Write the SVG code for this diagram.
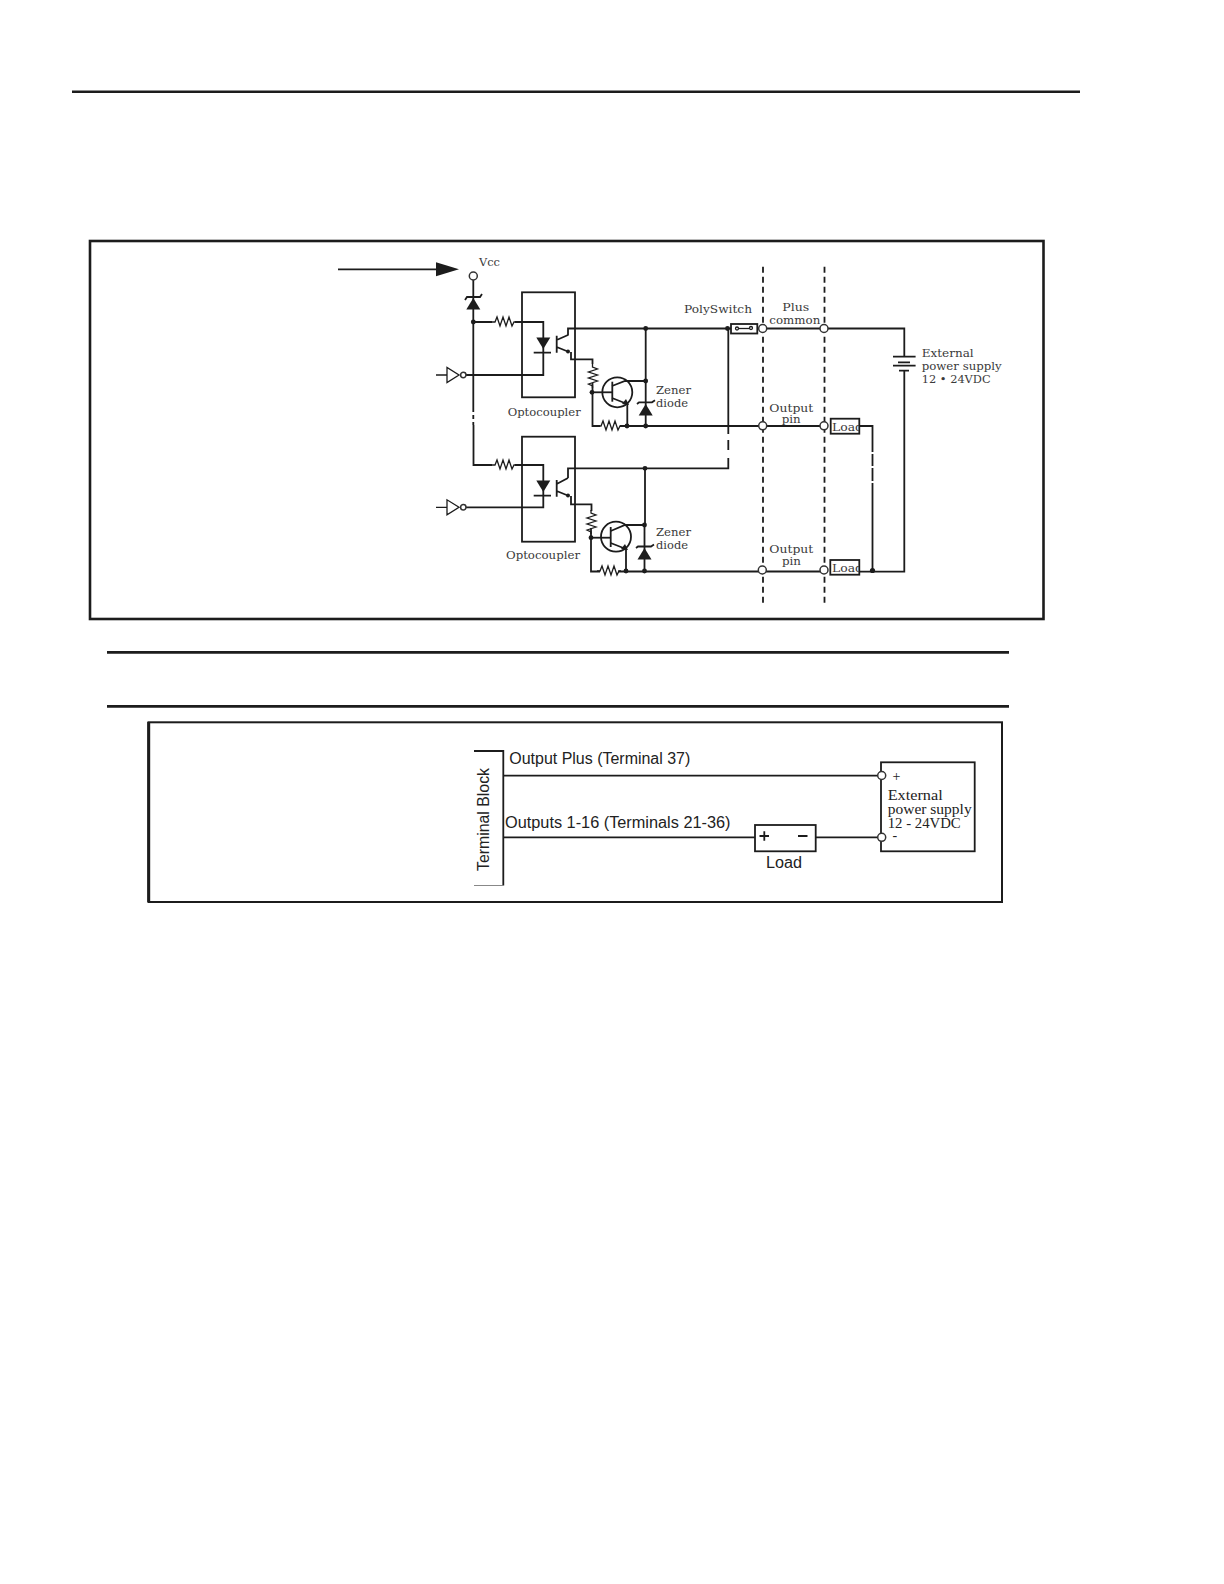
<svg xmlns="http://www.w3.org/2000/svg" width="1224" height="1584" viewBox="0 0 1224 1584">
<style>
.w{fill:none;stroke:#1c1c1c;stroke-width:1.800}
.t{fill:none;stroke:#1c1c1c;stroke-width:1.300}
.d{fill:#1c1c1c}
.o{fill:#fff;stroke:#333;stroke-width:1.500}
.da{fill:none;stroke:#1c1c1c;stroke-width:1.800;stroke-dasharray:6 4}
.s{font-family:"DejaVu Serif","Liberation Serif",serif;font-size:11.500px;fill:#3a3a3a}
.a{font-family:"Liberation Sans",Arial,sans-serif;font-size:16px;fill:#222}
.b{font-family:"Liberation Serif","DejaVu Serif",serif;font-size:14px;fill:#222}
</style>
<defs>
<path id="res" class="t" d="M0 0h3l2-5 3 9 3-9 3 9 3-9 3 9 2-4h2"/>
<g id="tri"><path class="d" d="M0 0l7 11.500h-14z"/></g>
<g id="inv"><path class="t" d="M0 0h11M11-7.500v15l12-7.500z"/><circle class="o" cx="27.300" cy="0" r="2.700"/></g>
<clipPath id="lc1"><rect x="830" y="418" width="29" height="16"/></clipPath>
<clipPath id="lc2"><rect x="830" y="560" width="29" height="16"/></clipPath>
</defs>
<rect width="1224" height="1584" fill="#fff"/>
<g id="page-rules">
<path d="M72 91.700H1080" stroke="#1c1c1c" stroke-width="2.400"/>
<path d="M107 652.300H1009M107 706.300H1009" stroke="#1c1c1c" stroke-width="2.800"/>
</g>
<g id="frame-top"><rect x="90" y="241" width="953.500" height="378" fill="none" stroke="#1c1c1c" stroke-width="2.600"/></g>
<g id="frame-bottom"><rect x="148.500" y="722.300" width="853.500" height="179.700" fill="none" stroke="#1c1c1c" stroke-width="2"/><path d="M148.700 722V902" stroke="#1c1c1c" stroke-width="3"/></g>

<g id="connectors">
<path d="M338 269.300H437" stroke="#1c1c1c" stroke-width="1.800"/>
<path class="d" d="M436 262.300L459 269.300L436 276.300z"/>
<path class="w" d="M473.300 280V408"/>
<path class="w" d="M473.300 408V425" stroke-dasharray="4 3"/>
<path class="w" d="M473.500 425V465H492M515 465H543.300V507.300H466"/>
<path class="w" d="M473.300 322H492M515 322H543.300V375H466"/>
<path class="w" d="M568 335.500V328.500H731"/>
<path class="w" d="M571 352V359.300H592.500V364M592.500 383V426H600M620 426H824"/>
<path class="w" d="M592 392.300H612"/>
<path class="w" d="M612 386L625 381H645.700M645.700 328.500V426M612 398L627.300 404V426"/>
<path class="w" d="M568 478V468.300H728.300V458M728.300 450V440M728.300 434V328.500"/>
<path class="w" d="M571 496V504.300H591.500V511M591 528V571.500H600M618 571.500H824"/>
<path class="w" d="M591 537.700H610.700"/>
<path class="w" d="M610.700 531L625 525H644.500M645 468.300V525M644.500 525V571.500M610.700 543L626 549V571.500"/>
<path class="w" d="M757.300 328.500H904.300V356.700M904.300 370.700V571.700H859.300"/>
<path class="w" d="M859.300 426H872.500V571"/>
<path d="M872.500 452v2M872.500 466v2M872.500 481v2" stroke="#fff" stroke-width="3" fill="none"/>
<path class="da" d="M763 266.700V603"/>
<path class="da" d="M824.500 266.700V603"/>
<path class="w" d="M503.300 775.700H878M503.300 837.300H755M815.700 837.300H878"/>
</g>

<g id="vcc-terminal">
<circle class="o" cx="473.300" cy="276" r="4"/>
<text class="s" x="479" y="266" textLength="21" lengthAdjust="spacingAndGlyphs">Vcc</text>
</g>
<g id="vcc-zener">
<use href="#tri" x="473.300" y="298"/>
<path class="w" d="M465 300l2-3h13l2-3"/>
</g>
<g id="junction-dots">
<circle class="d" cx="473.300" cy="322" r="2.400"/>
<circle class="d" cx="645.700" cy="328.500" r="2.400"/>
<circle class="d" cx="645.700" cy="381" r="2.400"/>
<circle class="d" cx="592" cy="392.300" r="2.400"/>
<circle class="d" cx="627" cy="426" r="2.400"/>
<circle class="d" cx="645.700" cy="426" r="2.400"/>
<circle class="d" cx="645" cy="468.300" r="2.400"/>
<circle class="d" cx="644.500" cy="525" r="2.400"/>
<circle class="d" cx="591" cy="537.700" r="2.400"/>
<circle class="d" cx="626" cy="571" r="2.400"/>
<circle class="d" cx="644.500" cy="571" r="2.400"/>
<circle class="d" cx="727.500" cy="328.500" r="2.400"/>
<circle class="d" cx="872.500" cy="570.500" r="2.600"/>
</g>
<g id="resistors">
<use href="#res" x="492" y="322"/>
<use href="#res" x="492" y="465"/>
<use href="#res" transform="translate(592.500 364) rotate(90)"/>
<use href="#res" transform="translate(591 510) rotate(90)"/>
<use href="#res" x="598" y="426"/>
<use href="#res" x="597" y="571"/>
</g>
<g id="inverter-1"><use href="#inv" x="436" y="375"/></g>
<g id="inverter-2"><use href="#inv" x="436" y="507.300"/></g>

<g id="optocoupler-1">
<rect x="522" y="292.300" width="53" height="105" class="w"/>
<use href="#tri" transform="translate(543.300 349) scale(1 -1)"/>
<path class="w" d="M533.700 352.700H551M556.700 335.700V352.700M556.700 340L568 335M556.700 347L569 352"/>
<circle class="d" cx="568" cy="351.500" r="2"/>
<text class="s" x="507.700" y="415.700" textLength="73" lengthAdjust="spacingAndGlyphs">Optocoupler</text>
</g>
<g id="optocoupler-2">
<rect x="522" y="436.700" width="53" height="105" class="w"/>
<use href="#tri" transform="translate(543.300 492) scale(1 -1)"/>
<path class="w" d="M533.700 495.700H551M556.700 480V496.700M556.700 484L568 478M556.700 491L569 496"/>
<circle class="d" cx="568" cy="495.500" r="2"/>
<text class="s" x="506" y="559" textLength="74" lengthAdjust="spacingAndGlyphs">Optocoupler</text>
</g>
<g id="transistor-1">
<circle cx="617.300" cy="392.300" r="15" class="w"/>
<path class="w" d="M612.300 381.700V401.700"/>
<path class="d" d="M629 405l-7-1 4-5z"/>
</g>
<g id="transistor-2">
<circle cx="616" cy="536.700" r="15" class="w"/>
<path class="w" d="M610.700 527V547"/>
<path class="d" d="M628 550l-7-1 4-5z"/>
</g>
<g id="zener-1">
<use href="#tri" x="645.700" y="404"/>
<path class="w" d="M637 404l2-1.700h13l3-2"/>
<text class="s" x="656" y="393.500" textLength="35" lengthAdjust="spacingAndGlyphs">Zener</text>
<text class="s" x="656" y="406.500" textLength="32" lengthAdjust="spacingAndGlyphs">diode</text>
</g>
<g id="zener-2">
<use href="#tri" x="644.500" y="548"/>
<path class="w" d="M636 548l2-1.500h13l3-2"/>
<text class="s" x="656" y="536" textLength="35" lengthAdjust="spacingAndGlyphs">Zener</text>
<text class="s" x="656" y="549" textLength="32" lengthAdjust="spacingAndGlyphs">diode</text>
</g>
<g id="polyswitch">
<rect x="731" y="324" width="26.300" height="9.500" fill="#fff" stroke="#1c1c1c" stroke-width="1.800"/>
<circle class="t" cx="737" cy="328.500" r="1.500"/><circle class="t" cx="751" cy="328" r="1.500"/>
<path class="t" d="M738.500 328.500H749.500"/>
<text class="s" x="684" y="313" textLength="68" lengthAdjust="spacingAndGlyphs">PolySwitch</text>
</g>
<g id="plus-common">
<circle class="o" cx="762.700" cy="328.500" r="4"/><circle class="o" cx="824" cy="328.500" r="4"/>
<text class="s" x="782.300" y="310.700" textLength="27" lengthAdjust="spacingAndGlyphs">Plus</text>
<text class="s" x="769.300" y="324" textLength="51" lengthAdjust="spacingAndGlyphs">common</text>
</g>
<g id="output-pin-1">
<circle class="o" cx="762.700" cy="425.800" r="4"/><circle class="o" cx="824" cy="425.800" r="4"/>
<text class="s" x="769.300" y="411.700" textLength="44" lengthAdjust="spacingAndGlyphs">Output</text>
<text class="s" x="781.700" y="423" textLength="19" lengthAdjust="spacingAndGlyphs">pin</text>
</g>
<g id="output-pin-2">
<circle class="o" cx="762.300" cy="570" r="4"/><circle class="o" cx="824" cy="570" r="4"/>
<text class="s" x="769.300" y="552.700" textLength="44" lengthAdjust="spacingAndGlyphs">Output</text>
<text class="s" x="782" y="565" textLength="19" lengthAdjust="spacingAndGlyphs">pin</text>
</g>
<g id="load-1">
<rect x="830.700" y="418.700" width="28.600" height="15" fill="#fff" stroke="#1c1c1c" stroke-width="1.800"/>
<text class="s" x="832" y="430.500" clip-path="url(#lc1)" textLength="31" lengthAdjust="spacingAndGlyphs">Load</text>
</g>
<g id="load-2">
<rect x="830.300" y="560" width="29" height="14.700" fill="#fff" stroke="#1c1c1c" stroke-width="1.800"/>
<text class="s" x="832" y="572" clip-path="url(#lc2)" textLength="31" lengthAdjust="spacingAndGlyphs">Load</text>
</g>
<g id="battery">
<path class="w" d="M893 356.700H915.600M898 362.300H910M893 365.700H915.600M899 370.700H909"/>
<text class="s" x="921.700" y="356.700" textLength="52" lengthAdjust="spacingAndGlyphs">External</text>
<text class="s" x="921.700" y="370" textLength="80" lengthAdjust="spacingAndGlyphs">power supply</text>
<text class="s" x="921.700" y="383.300" textLength="69" lengthAdjust="spacingAndGlyphs">12 • 24VDC</text>
</g>

<g id="terminal-block">
<path class="w" d="M474 751H503.300V885.500"/>
<path d="M474 885.500H503.300" stroke="#888" stroke-width="1" fill="none"/>
<text class="a" transform="translate(489 871) rotate(-90)" textLength="103" lengthAdjust="spacingAndGlyphs">Terminal Block</text>
</g>
<g id="label-output-plus"><text class="a" x="509.300" y="764.300" textLength="181" lengthAdjust="spacingAndGlyphs">Output Plus (Terminal 37)</text></g>
<g id="label-outputs"><text class="a" x="505" y="827.700" textLength="225.500" lengthAdjust="spacingAndGlyphs">Outputs 1-16 (Terminals 21-36)</text></g>
<g id="load-box">
<rect x="755" y="825" width="60.700" height="26.300" fill="#fff" stroke="#1c1c1c" stroke-width="1.800"/>
<path class="w" d="M759.500 836H769M764.300 831.200V840.800M798 836H807.500"/>
<text class="a" x="766" y="868.300" textLength="36" lengthAdjust="spacingAndGlyphs">Load</text>
</g>
<g id="external-supply">
<rect x="881" y="762.300" width="93.700" height="89" fill="none" stroke="#1c1c1c" stroke-width="1.800"/>
<circle class="o" cx="881.700" cy="775.500" r="4"/><circle class="o" cx="881.700" cy="837.300" r="4"/>
<text class="b" x="892.500" y="781" font-size="13">+</text>
<text class="b" x="892.500" y="840">-</text>
<text class="b" x="887.700" y="800" textLength="55" lengthAdjust="spacingAndGlyphs">External</text>
<text class="b" x="887.700" y="814.300" textLength="84" lengthAdjust="spacingAndGlyphs">power supply</text>
<text class="b" x="887.700" y="827.700" textLength="73" lengthAdjust="spacingAndGlyphs">12 - 24VDC</text>
</g>
</svg>
